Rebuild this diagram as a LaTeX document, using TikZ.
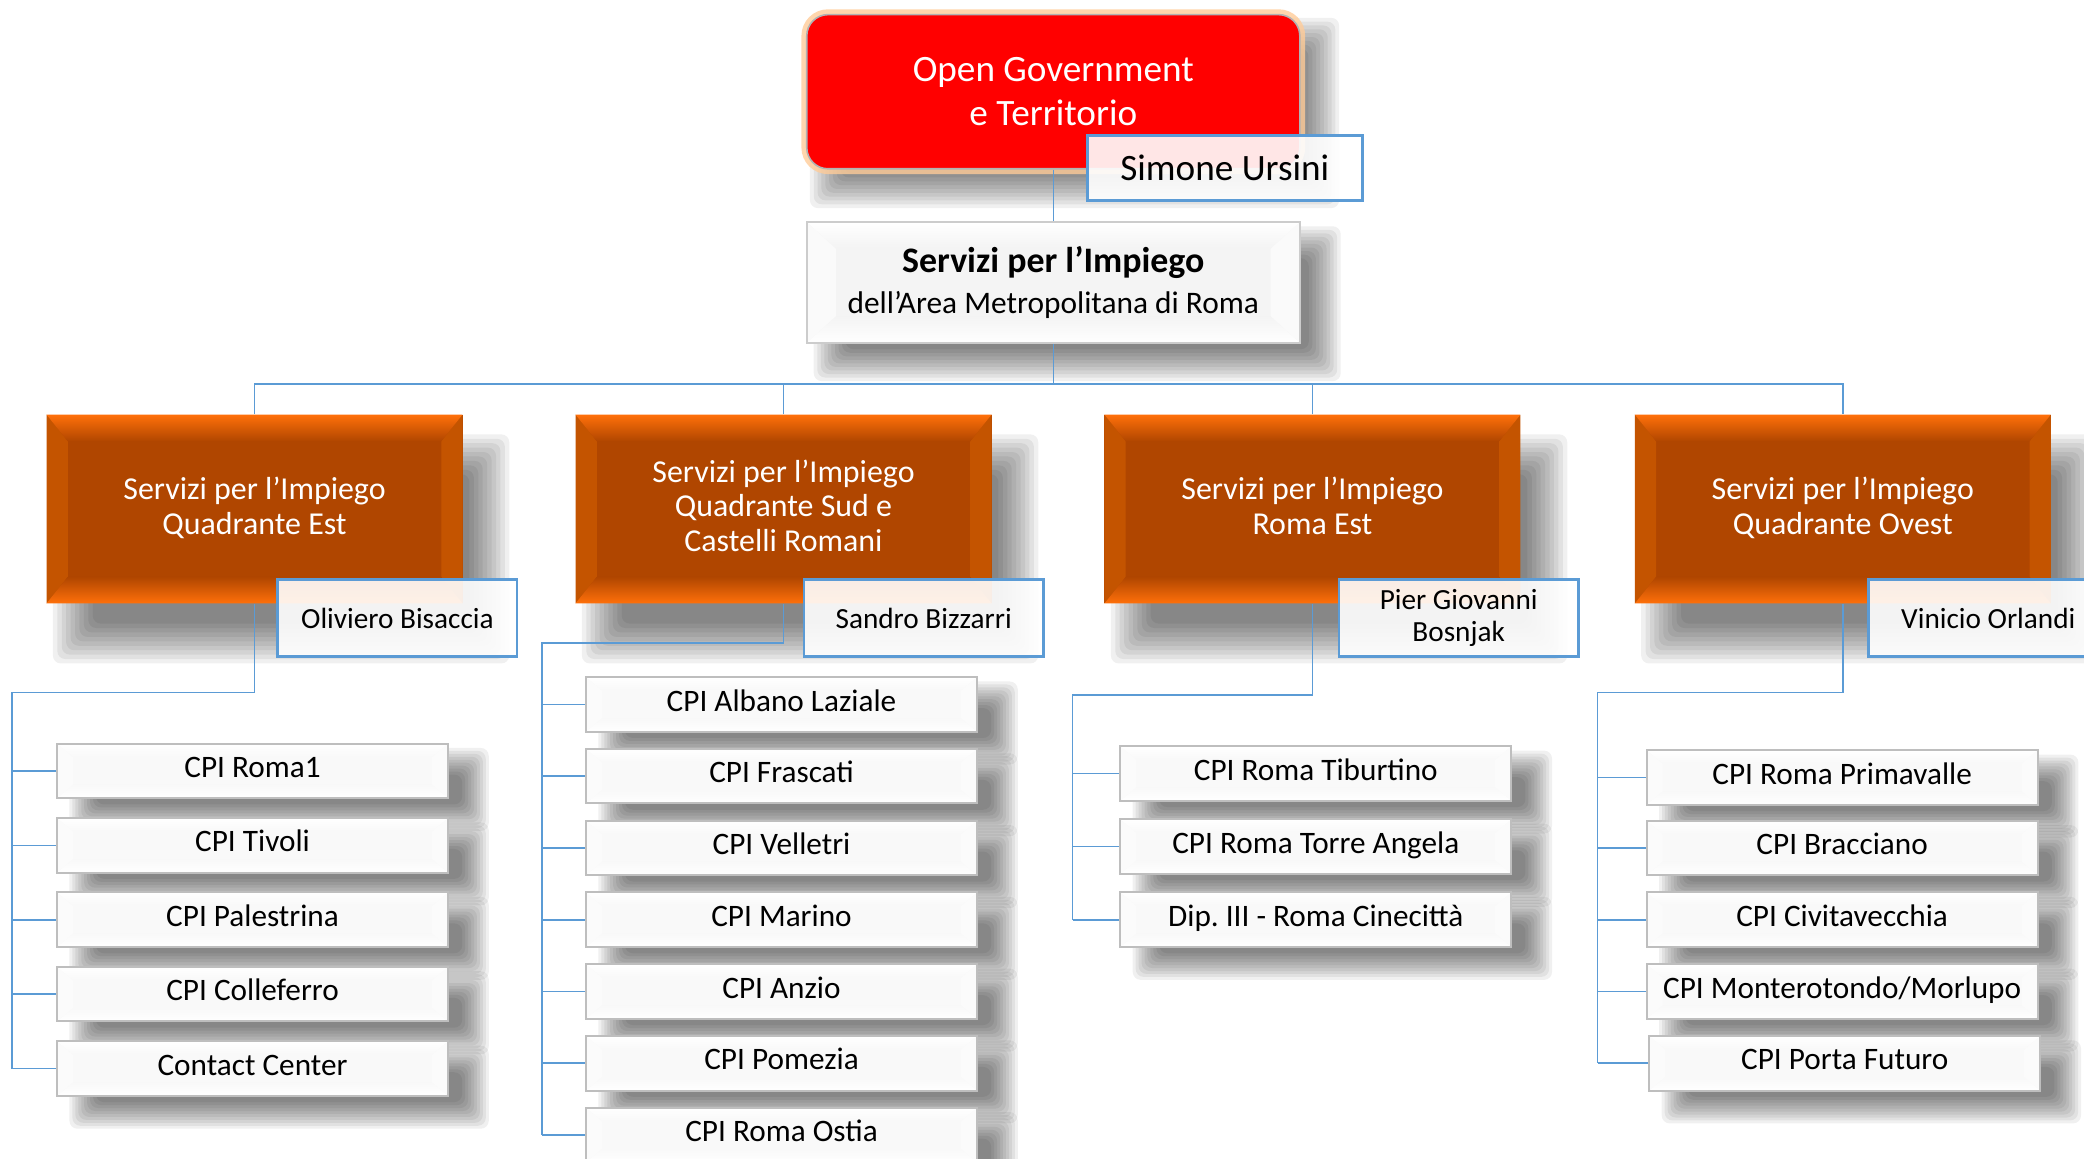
\documentclass[tikz,border=0pt]{standalone}
\usepackage{fontspec}
\setmainfont{Carlito}
\usetikzlibrary{calc,backgrounds}
\definecolor{lineblue}{RGB}{91,155,213}
\definecolor{orangemain}{RGB}{176,70,0}
\definecolor{orangehi}{RGB}{255,112,10}
\definecolor{orangeside}{RGB}{196,84,0}
\definecolor{boxedge}{RGB}{190,190,190}
\def\bevelfill#1#2#3#4#5{%
  \coordinate (bnw) at (path picture bounding box.north west);
  \coordinate (bne) at (path picture bounding box.north east);
  \coordinate (bsw) at (path picture bounding box.south west);
  \coordinate (bse) at (path picture bounding box.south east);
  \fill[#5] (bnw) -- ([xshift=#1,yshift=-#2]bnw) -- ([xshift=#1,yshift=#2]bsw) -- (bsw) -- cycle;
  \fill[#5] (bne) -- ([xshift=-#1,yshift=-#2]bne) -- ([xshift=-#1,yshift=#2]bse) -- (bse) -- cycle;
  \shade[top color=#3,bottom color=#4] (bnw) -- (bne) -- ([xshift=-#1,yshift=-#2]bne) -- ([xshift=#1,yshift=-#2]bnw) -- cycle;
  \shade[top color=#4,bottom color=#3] (bsw) -- (bse) -- ([xshift=-#1,yshift=#2]bse) -- ([xshift=#1,yshift=#2]bsw) -- cycle;}
% soft shadow: node, x offset, y offset, spread
\def\boxshadow#1#2#3#4{%
  \foreach \k in {0,...,9}{%
    \pgfmathsetmacro\e{#4*(0.5-\k/9)}%
    \fill[black, opacity=0.06, rounded corners=6pt]
      ([xshift={#2-\e pt}, yshift={#3+\e pt}]#1.north west) rectangle
      ([xshift={#2+\e pt}, yshift={#3-\e pt}]#1.south east);}}
\tikzset{
  conn/.style={draw=lineblue, line width=1.2pt},
  chief/.style={rectangle, rounded corners=16pt, fill=red, draw=gray!60, line width=1.2pt,
    minimum width=371pt, minimum height=116pt, text=white, align=center,
    font=\fontsize{28}{33}\selectfont,
    preaction={draw=orange!40, line width=8pt, opacity=0.8}},
  dept/.style={rectangle, fill=gray!9, draw=gray!40, line width=1.5pt,
    minimum width=371pt, minimum height=91pt, align=center,
    path picture={\bevelfill{22pt}{20pt}{white}{gray!9}{gray!4}}},
  unit/.style={rectangle, fill=orangemain, minimum width=313pt, minimum height=142pt,
    inner sep=0pt, text depth=5pt, text=white, align=center, font=\fontsize{24}{26}\selectfont,
    path picture={\bevelfill{16pt}{20pt}{orangehi}{orangemain}{orangeside}}},
  namebox/.style={rectangle, fill=white, fill opacity=0.9, text opacity=1, draw=lineblue,
    line width=2pt, align=center, minimum width=180pt, minimum height=58pt,
    font=\fontsize{22}{24}\selectfont},
  office/.style={rectangle, fill=gray!5, draw=boxedge, line width=1.5pt,
    minimum width=294pt, minimum height=41pt, inner sep=0pt, text height=16pt, text depth=6pt,
    font=\fontsize{23.5}{28}\selectfont,
    path picture={\bevelfill{12pt}{10pt}{white}{gray!5}{gray!3}}}
}
\frenchspacing
\begin{document}
\begin{tikzpicture}[x=1pt,y=-1pt]
  %%%%% START %%%%%
  \useasboundingbox (0,0) rectangle (1568,872);
  \clip (0,0) rectangle (1568,872);

  \node[chief] (og) at (792.5,69) {Open Government\\e Territorio};
  \node[namebox, minimum width=207pt, minimum height=49pt, font=\fontsize{28}{33}\selectfont] (su) at (921.5,126.5) {Simone Ursini};

  \node[dept, font=\fontsize{23.6}{31}\selectfont] (sip) at (792.5,212.5)
    {{\fontsize{27}{31}\selectfont\bfseries Servizi per l’Impiego}\\dell’Area Metropolitana di Roma};

  \node[unit] (qe) at (191.5,383) {Servizi per l’Impiego\\Quadrante Est};
  \node[unit] (qs) at (589.5,383) {Servizi per l’Impiego\\Quadrante Sud e\\Castelli Romani};
  \node[unit] (re) at (987.5,383) {Servizi per l’Impiego\\Roma Est};
  \node[unit] (qo) at (1386.5,383) {Servizi per l’Impiego\\Quadrante Ovest};

  \node[namebox] (nqe) at (299,465) {Oliviero Bisaccia};
  \node[namebox] (nqs) at (695,465) {Sandro Bizzarri};
  \node[namebox] (nre) at (1097.5,465) {Pier Giovanni\\Bosnjak};
  \node[namebox] (nqo) at (1496,465) {Vinicio Orlandi};

  % Quadrante Est
  \node[office] (qe1) at (190,580) {CPI Roma1};
  \node[office] (qe2) at (190,636) {CPI Tivoli};
  \node[office] (qe3) at (190,692) {CPI Palestrina};
  \node[office] (qe4) at (190,748) {CPI Colleferro};
  \node[office] (qe5) at (190,804) {Contact Center};

  % Quadrante Sud
  \node[office] (qs1) at (588,530) {CPI Albano Laziale};
  \node[office] (qs2) at (588,584) {CPI Frascati};
  \node[office] (qs3) at (588,638) {CPI Velletri};
  \node[office] (qs4) at (588,692) {CPI Marino};
  \node[office] (qs5) at (588,746) {CPI Anzio};
  \node[office] (qs6) at (588,800) {CPI Pomezia};
  \node[office] (qs7) at (588,854) {CPI Roma Ostia};

  % Roma Est
  \node[office] (re1) at (990,582) {CPI Roma Tiburtino};
  \node[office] (re2) at (990,637) {CPI Roma Torre Angela};
  \node[office] (re3) at (990,692) {Dip. III - Roma Cinecittà};

  % Quadrante Ovest
  \node[office] (qo1) at (1386,585) {CPI Roma Primavalle};
  \node[office] (qo2) at (1386,638) {CPI Bracciano};
  \node[office] (qo3) at (1386,692) {CPI Civitavecchia};
  \node[office] (qo4) at (1386,746) {CPI Monterotondo/Morlupo};
  \node[office] (qo5) at (1388,800) {CPI Porta Futuro};

  % shadows
  \begin{pgfonlayer}{background}
    \fill[white] (0,0) rectangle (1568,872);
    \boxshadow{og}{16pt}{-16pt}{26}
    \boxshadow{sip}{18pt}{-16pt}{24}
    \foreach \n in {qe,qs,re,qo}{\boxshadow{\n}{20pt}{-30pt}{30}}
    \foreach \n in {qe1,qe2,qe3,qe4,qe5,qs1,qs2,qs3,qs4,qs5,qs6,qs7,re1,re2,re3,qo1,qo2,qo3,qo4,qo5}{\boxshadow{\n}{20pt}{-14pt}{20}}
  \end{pgfonlayer}

  % connectors
  \coordinate (bustop) at (792.5,289);
  \coordinate (busqe) at (9,521);
  \coordinate (busqs) at (408,484);
  \coordinate (busre) at (807,523);
  \coordinate (busqo) at (1202,521);

  \draw[conn] (og.south) -- (sip.north);
  \draw[conn] (sip.south) -- (bustop);
  \draw[conn] (qe.north) |- (bustop) -| (qo.north);
  \draw[conn] (qs.north) -- (qs.north |- bustop);
  \draw[conn] (re.north) -- (re.north |- bustop);

  \draw[conn] (qe.south) |- (busqe) -- (busqe |- qe5.west);
  \draw[conn] (busqe |- qe1) -- (qe1.west);
  \draw[conn] (busqe |- qe2) -- (qe2.west);
  \draw[conn] (busqe |- qe3) -- (qe3.west);
  \draw[conn] (busqe |- qe4) -- (qe4.west);
  \draw[conn] (busqe |- qe5) -- (qe5.west);

  \draw[conn] (qs.south) |- (busqs) -- (busqs |- qs7.west);
  \draw[conn] (busqs |- qs1) -- (qs1.west);
  \draw[conn] (busqs |- qs2) -- (qs2.west);
  \draw[conn] (busqs |- qs3) -- (qs3.west);
  \draw[conn] (busqs |- qs4) -- (qs4.west);
  \draw[conn] (busqs |- qs5) -- (qs5.west);
  \draw[conn] (busqs |- qs6) -- (qs6.west);
  \draw[conn] (busqs |- qs7) -- (qs7.west);

  \draw[conn] (re.south) |- (busre) -- (busre |- re3.west);
  \draw[conn] (busre |- re1) -- (re1.west);
  \draw[conn] (busre |- re2) -- (re2.west);
  \draw[conn] (busre |- re3) -- (re3.west);

  \draw[conn] (qo.south) |- (busqo) -- (busqo |- qo5.west);
  \draw[conn] (busqo |- qo1) -- (qo1.west);
  \draw[conn] (busqo |- qo2) -- (qo2.west);
  \draw[conn] (busqo |- qo3) -- (qo3.west);
  \draw[conn] (busqo |- qo4) -- (qo4.west);
  \draw[conn] (busqo |- qo5) -- (qo5.west);
  %%%%% END %%%%%
\end{tikzpicture}
\end{document}
